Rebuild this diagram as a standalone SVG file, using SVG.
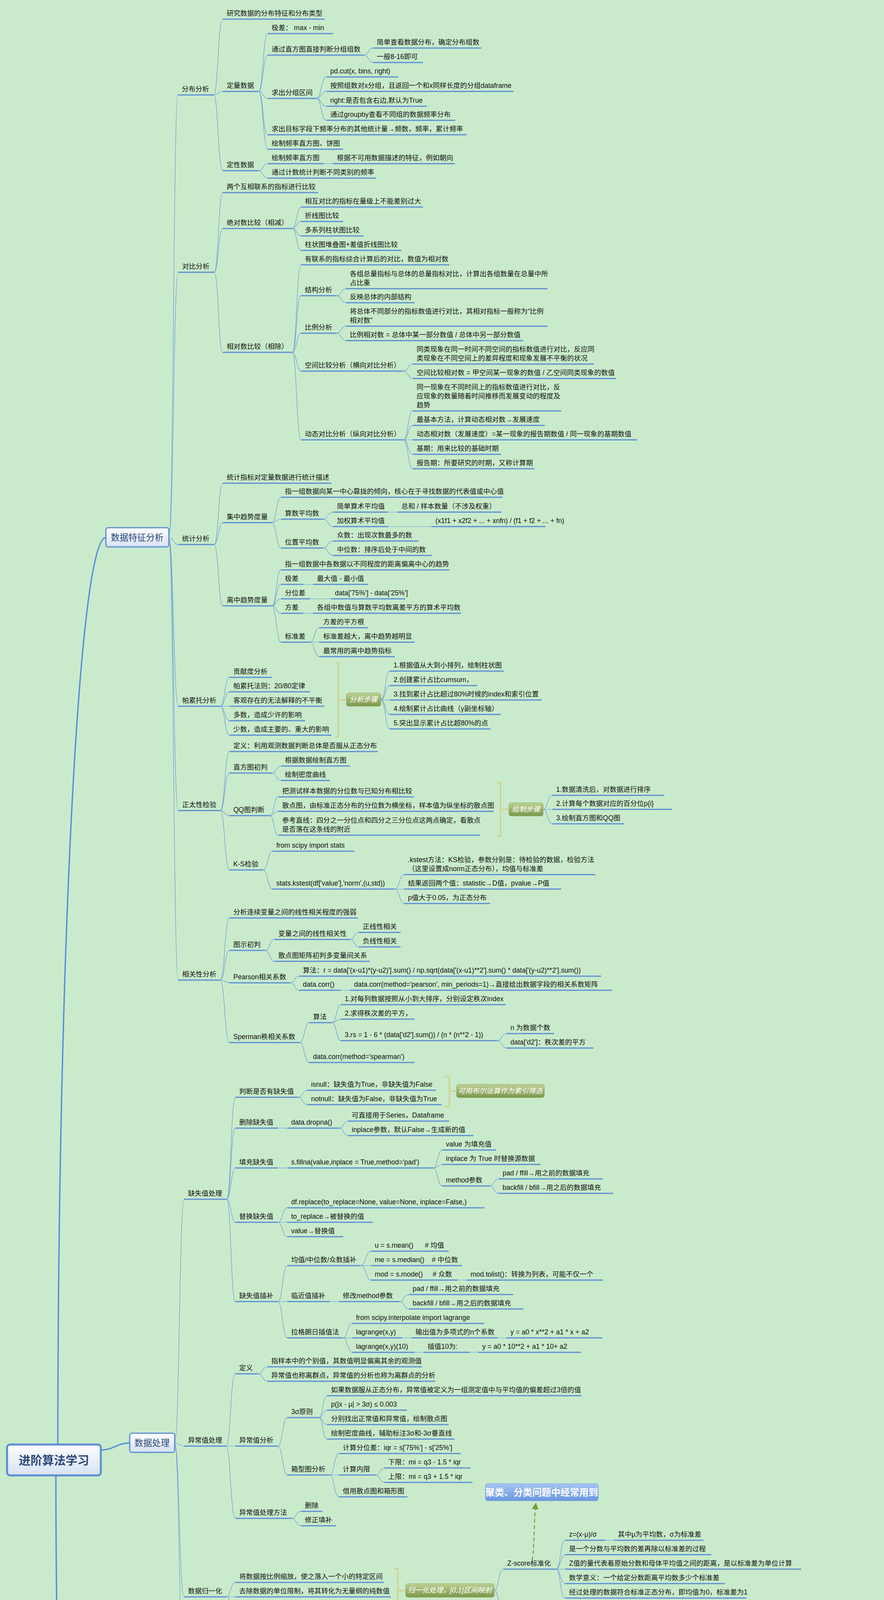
<svg xmlns="http://www.w3.org/2000/svg" width="2262" height="7769" viewBox="0 0 2262 7769">
<defs>
<linearGradient id="gw" x1="0" y1="0" x2="0" y2="1"><stop offset="0" stop-color="#fdfeff"/><stop offset="1" stop-color="#d6e1f3"/></linearGradient>
<linearGradient id="gg" x1="0" y1="0" x2="0" y2="1"><stop offset="0" stop-color="#bcd194"/><stop offset="1" stop-color="#7b974a"/></linearGradient>
<linearGradient id="gbl" x1="0" y1="0" x2="0" y2="1"><stop offset="0" stop-color="#a6c4f3"/><stop offset="1" stop-color="#6a97e0"/></linearGradient>
<marker id="ar" viewBox="0 0 10 10" refX="8" refY="5" markerWidth="7" markerHeight="7" orient="auto"><path d="M0 0L10 5L0 10z" fill="#7d9a3c"/></marker>
</defs>
<style>
text{font-family:"Liberation Sans","Noto Sans CJK SC",sans-serif}
.N text{font-size:17.5px;fill:#111}
.N path{stroke:#5b8dd6;stroke-width:3;fill:none}
#connectors path{stroke:#6a95d9;stroke-width:1.2;fill:none}
#connectors path.k{stroke:#5b8dd6;stroke-width:3.5}
.br{stroke:#d2d596;stroke-width:4;fill:none}
.gb rect{fill:url(#gg);stroke:#93ab68;stroke-width:1}
.gb text{fill:#fff;font-style:italic;font-size:18px;text-anchor:middle}
.L rect{fill:url(#gw);stroke:#5b8dd6;stroke-width:3}
.L text{fill:#2d4a7a;font-size:22.5px;text-anchor:middle}
.red text{fill:#f00}
</style>
<rect width="2262" height="7769" fill="#c9ebcb"/>

<g id="connectors">
<path class="k" d="M148 3698C148 2500 200 1376 271 1376"/>
<path class="k" d="M258 3712C292 3712 298 3694 332 3694"/>
<path class="k" d="M143 3777C143 4900 220 6183 271 6183"/>
<path d="M432 1376C444 1376 444 243 455 243M432 1376C444 1376 444 697 456 697M432 1376C444 1376 444 1394 456 1394M432 1376C444 1376 444 1808 456 1808M432 1376C444 1376 444 2075 456 2075M432 1376C444 1376 444 2509 456 2509"/>
<path d="M547 243C558 243 558 49 570 49M547 243C558 243 558 234 570 234M547 243C558 243 558 437 570 437"/>
<path d="M662 234C673 234 673 86 685 86M662 234C673 234 673 141 685 141M662 234C673 234 673 252 685 252M662 234C673 234 673 345 685 345M662 234C673 234 673 382 685 382"/>
<path d="M932 141C943 141 943 123 954 123M932 141C943 141 943 160 954 160"/>
<path d="M810 252C822 252 822 197 835 197M810 252C822 252 822 234 835 234M810 252C822 252 822 272 835 272M810 252C822 252 822 308 835 308"/>
<path d="M662 437C673 437 673 419 685 419M662 437C673 437 673 456 685 456M828 419H852"/>
<path d="M548 697C559 697 559 493 570 493M548 697C559 697 559 585 570 585M548 697C559 697 559 902 570 902"/>
<path d="M748 585C759 585 759 530 770 530M748 585C759 585 759 567 770 567M748 585C759 585 759 604 770 604M748 585C759 585 759 641 770 641"/>
<path d="M748 902C759 902 759 678 770 678M748 902C759 902 759 757 770 757M748 902C759 902 759 853 770 853M748 902C759 902 759 950 770 950M748 902C759 902 759 1126 770 1126"/>
<path d="M862 757C873 757 873 739 885 739M862 757C873 757 873 775 885 775M862 853C873 853 873 835 885 835M862 853C873 853 873 872 885 872"/>
<path d="M1033 950C1044 950 1044 932 1056 932M1033 950C1044 950 1044 969 1056 969"/>
<path d="M1033 1126C1044 1126 1044 1052 1056 1052M1033 1126C1044 1126 1044 1089 1056 1089M1033 1126H1056M1033 1126C1044 1126 1044 1163 1056 1163M1033 1126C1044 1126 1044 1200 1056 1200"/>
<path d="M548 1394C559 1394 559 1237 570 1237M548 1394C559 1394 559 1338 570 1338M548 1394C559 1394 559 1551 570 1551"/>
<path d="M696 1338C707 1338 707 1273 719 1273M696 1338C707 1338 707 1329 719 1329M696 1338C707 1338 707 1403 719 1403"/>
<path d="M827 1329C839 1329 839 1311 852 1311M827 1329C839 1329 839 1348 852 1348M993 1311H1017M993 1348H1104"/>
<path d="M827 1403C839 1403 839 1385 852 1385M827 1403C839 1403 839 1422 852 1422"/>
<path d="M696 1551C707 1551 707 1459 719 1459M696 1551C707 1551 707 1496 719 1496M696 1551C707 1551 707 1533 719 1533M696 1551C707 1551 707 1570 719 1570M696 1551C707 1551 707 1644 719 1644M776 1496H801M793 1533H847M776 1570H801"/>
<path d="M793 1644C805 1644 805 1607 817 1607M793 1644H817M793 1644C805 1644 805 1681 817 1681"/>
<path d="M564 1808C575 1808 575 1734 587 1734M564 1808C575 1808 575 1771 587 1771M564 1808H587M564 1808C575 1808 575 1845 587 1845M564 1808C575 1808 575 1882 587 1882"/>
<path d="M975 1791C986 1791 986 1718 997 1718M975 1791C986 1791 986 1755 997 1755M975 1791C986 1791 986 1792 997 1792M975 1791C986 1791 986 1829 997 1829M975 1791C986 1791 986 1866 997 1866"/>
<path d="M564 2075C575 2075 575 1924 587 1924M564 2075C575 2075 575 1979 587 1979M564 2075C575 2075 575 2088 587 2088M564 2075C575 2075 575 2227 587 2227"/>
<path d="M696 1979C707 1979 707 1961 719 1961M696 1979C707 1979 707 1998 719 1998"/>
<path d="M691 2088C701 2088 701 2040 712 2040M691 2088C701 2088 701 2077 712 2077M691 2088C701 2088 701 2138 712 2138"/>
<path d="M1390 2072C1401 2072 1401 2036 1413 2036M1390 2072H1413M1390 2072C1401 2072 1401 2109 1413 2109"/>
<path d="M673 2227C685 2227 685 2179 697 2179M673 2227C685 2227 685 2276 697 2276"/>
<path d="M1010 2276C1022 2276 1022 2239 1034 2239M1010 2276H1034M1010 2276C1022 2276 1022 2313 1034 2313"/>
<path d="M564 2509C575 2509 575 2350 587 2350M564 2509C575 2509 575 2433 587 2433M564 2509C575 2509 575 2516 587 2516M564 2509C575 2509 575 2669 587 2669"/>
<path d="M679 2433C690 2433 690 2405 702 2405M679 2433C690 2433 690 2461 702 2461M896 2405C907 2405 907 2387 918 2387M896 2405C907 2405 907 2424 918 2424"/>
<path d="M743 2516C754 2516 754 2499 765 2499M743 2516C754 2516 754 2535 765 2535M872 2535H896"/>
<path d="M767 2669C779 2669 779 2618 791 2618M767 2669C779 2669 779 2720 791 2720"/>
<path d="M850 2618C861 2618 861 2572 872 2572M850 2618C861 2618 861 2609 872 2609M850 2618C861 2618 861 2664 872 2664"/>
<path d="M1273 2664C1284 2664 1284 2646 1296 2646M1273 2664C1284 2664 1284 2683 1296 2683"/>
<path d="M447 3694C459 3694 459 3070 471 3070M447 3694C459 3694 459 3702 471 3702M447 3694C459 3694 459 4088 471 4088M447 3694C459 3694 459 4319 471 4319"/>
<path d="M580 3070C591 3070 591 2809 602 2809M580 3070C591 3070 591 2888 602 2888M580 3070C591 3070 591 2990 602 2990M580 3070C591 3070 591 3129 602 3129M580 3070C591 3070 591 3332 602 3332"/>
<path d="M763 2809C774 2809 774 2791 786 2791M763 2809C774 2809 774 2828 786 2828M711 2888H735M869 2888C879 2888 879 2870 890 2870M869 2888C879 2888 879 2907 890 2907"/>
<path d="M711 2990H735M1109 2990C1120 2990 1120 2944 1131 2944M1109 2990C1120 2990 1120 2981 1131 2981M1109 2990C1120 2990 1120 3036 1131 3036"/>
<path d="M1253 3036C1264 3036 1264 3018 1276 3018M1253 3036C1264 3036 1264 3055 1276 3055"/>
<path d="M711 3129C723 3129 723 3092 735 3092M711 3129H735M711 3129C723 3129 723 3166 735 3166"/>
<path d="M711 3332C723 3332 723 3240 735 3240M711 3332H735M711 3332C723 3332 723 3425 735 3425"/>
<path d="M923 3240C936 3240 936 3203 949 3203M923 3240H949M923 3240C936 3240 936 3277 949 3277M1171 3277H1194M844 3332H867"/>
<path d="M1023 3332C1034 3332 1034 3314 1046 3314M1023 3332C1034 3332 1034 3351 1046 3351"/>
<path d="M878 3425C889 3425 889 3388 901 3388M878 3425H901M878 3425C889 3425 889 3462 901 3462M1029 3425H1053M1273 3425H1296M1061 3462H1084M1202 3462H1224"/>
<path d="M579 3702C590 3702 590 3517 602 3517M579 3702H602M579 3702C590 3702 590 3887 602 3887"/>
<path d="M661 3517C672 3517 672 3499 684 3499M661 3517C672 3517 672 3536 684 3536"/>
<path d="M711 3702C723 3702 723 3629 735 3629M711 3702C723 3702 723 3776 735 3776"/>
<path d="M816 3629C826 3629 826 3573 837 3573M816 3629C826 3629 826 3610 837 3610M816 3629C826 3629 826 3647 837 3647M816 3629C826 3629 826 3684 837 3684"/>
<path d="M844 3776C855 3776 855 3721 867 3721M844 3776H867M844 3776C855 3776 855 3832 867 3832M961 3776C972 3776 972 3758 983 3758M961 3776C972 3776 972 3795 983 3795"/>
<path d="M747 3887C758 3887 758 3869 770 3869M747 3887C758 3887 758 3906 770 3906"/>
<path d="M579 4088C590 4088 590 4051 602 4051M579 4088H602M579 4088C590 4088 590 4125 602 4125"/>
<path d="M1265 4071C1276 4071 1276 4017 1288 4017M1265 4071C1276 4071 1276 4128 1288 4128"/>
<path d="M1423 4017C1434 4017 1434 3943 1446 3943M1423 4017C1434 4017 1434 3980 1446 3980M1423 4017H1446M1423 4017C1434 4017 1434 4054 1446 4054M1423 4017C1434 4017 1434 4091 1446 4091M1548 3943H1571M1388 4128H1413"/>
<path d="M646 4319H671M881 4319C893 4319 893 4250 905 4250M881 4319C893 4319 893 4389 905 4389"/>
<path d="M1323 4250C1335 4250 1335 4186 1347 4186M1323 4250C1335 4250 1335 4241 1347 4241M1323 4250C1335 4250 1335 4278 1347 4278M1323 4250C1335 4250 1335 4315 1347 4315"/>
<path d="M1564 4186C1577 4186 1577 4167 1590 4167M1564 4186C1577 4186 1577 4204 1590 4204M1454 4241H1480M1490 4278H1515M1546 4315H1571"/>
<path d="M1245 4389C1256 4389 1256 4351 1268 4351M1245 4389H1268M1245 4389C1256 4389 1256 4426 1268 4426"/>
<path d="M388 6183C399 6183 399 4880 411 4880M388 6183C399 6183 399 5546 411 5546M388 6183C399 6183 399 6401 411 6401M388 6183C399 6183 399 7489 411 7489"/>
<path d="M503 4880C514 4880 514 4510 525 4510M503 4880C514 4880 514 4912 525 4912M503 4880C514 4880 514 5251 525 5251"/>
<path d="M584 4510C594 4510 594 4492 605 4492M584 4510C594 4510 594 4529 605 4529M584 4912C595 4912 595 4798 607 4798M584 4912C595 4912 595 5028 607 5028"/>
<path d="M733 4798C744 4798 744 4676 755 4676M733 4798C744 4798 744 4843 755 4843M733 4798C744 4798 744 4917 755 4917"/>
<path d="M847 4676C858 4676 858 4566 870 4566M847 4676C858 4676 858 4603 870 4603M847 4676C858 4676 858 4640 870 4640M847 4676H870M847 4676C858 4676 858 4715 870 4715M847 4676C858 4676 858 4751 870 4751M847 4676C858 4676 858 4788 870 4788M1120 4640H1145"/>
<path d="M813 4843H837M1263 4843C1275 4843 1275 4825 1288 4825M1263 4843C1275 4843 1275 4862 1288 4862"/>
<path d="M852 4917C863 4917 863 4899 874 4899M852 4917C863 4917 863 4936 874 4936"/>
<path d="M742 5028C752 5028 752 4973 763 4973M742 5028C752 5028 752 5010 763 5010M742 5028C752 5028 752 5047 763 5047M742 5028C752 5028 752 5084 763 5084"/>
<path d="M619 5251C630 5251 630 5195 641 5195M619 5251C630 5251 630 5232 641 5232M619 5251C630 5251 630 5269 641 5269M619 5251C630 5251 630 5306 641 5306"/>
<path d="M1262 5233C1273 5233 1273 5121 1284 5121M1262 5233C1273 5233 1273 5158 1284 5158M1262 5233C1273 5233 1273 5195 1284 5195M1262 5233H1284M1262 5233C1273 5233 1273 5269 1284 5269M1262 5233C1273 5233 1273 5306 1284 5306M1262 5233C1273 5233 1273 5346 1284 5346"/>
<path d="M508 5546C519 5546 519 5390 531 5390M508 5546C519 5546 519 5500 531 5500M508 5546C519 5546 519 5703 531 5703"/>
<path d="M622 5500C634 5500 634 5426 646 5426M622 5500C634 5500 634 5463 646 5463M622 5500H646M622 5500C634 5500 634 5538 646 5538M622 5500C634 5500 634 5574 646 5574M988 5463H1013M972 5500H997M840 5538H864"/>
<path d="M622 5703C634 5703 634 5611 646 5611M622 5703C634 5703 634 5648 646 5648M622 5703C634 5703 634 5685 646 5685M622 5703C634 5703 634 5722 646 5722M622 5703C634 5703 634 5759 646 5759M622 5703C634 5703 634 5796 646 5796M867 5648H891M988 5722H1013M944 5759H968M842 5796H866"/>
<path d="M622 6401C633 6401 633 5833 645 5833M622 6401C633 6401 633 5870 645 5870M622 6401C633 6401 633 6112 645 6112M622 6401C633 6401 633 6498 645 6498M622 6401C633 6401 633 6969 645 6969"/>
<path d="M770 6112C781 6112 781 5907 793 5907M770 6112C781 6112 781 5944 793 5944M770 6112C781 6112 781 5982 793 5982M770 6112C781 6112 781 6018 793 6018M770 6112C781 6112 781 6074 793 6074M770 6112C781 6112 781 6147 793 6147M770 6112C781 6112 781 6203 793 6203M770 6112C781 6112 781 6245 793 6245M770 6112C781 6112 781 6281 793 6281M770 6112C781 6112 781 6318 793 6318"/>
<path d="M1136 5944H1161M1013 6074C1024 6074 1024 6055 1036 6055M1013 6074C1024 6074 1024 6092 1036 6092M978 6147C990 6147 990 6130 1002 6130M978 6147C990 6147 990 6166 1002 6166M969 6203H993M1574 6245H1600"/>
<path d="M770 6498C781 6498 781 6378 793 6378M770 6498C781 6498 781 6415 793 6415M770 6498C781 6498 781 6452 793 6452M770 6498C781 6498 781 6489 793 6489M770 6498C781 6498 781 6526 793 6526M770 6498C781 6498 781 6618 793 6618M1143 6378H1168M1184 6526H1207"/>
<path d="M903 6618C913 6618 913 6562 923 6562M903 6618C913 6618 913 6601 923 6601M903 6618C913 6618 913 6637 923 6637M903 6618C913 6618 913 6674 923 6674M1283 6601H1308"/>
<path d="M772 6969C784 6969 784 6748 796 6748M772 6969C784 6969 784 6951 796 6951M772 6969C784 6969 784 7192 796 7192"/>
<path d="M852 6748C865 6748 865 6711 878 6711M852 6748H878M852 6748C865 6748 865 6785 878 6785"/>
<path d="M886 6951C898 6951 898 6822 911 6822M886 6951H911M886 6951C898 6951 898 7081 911 7081M1427 6822H1452"/>
<path d="M1131 6951C1142 6951 1142 6859 1153 6859M1131 6951C1142 6951 1142 6896 1153 6896M1131 6951C1142 6951 1142 6933 1153 6933M1131 6951C1142 6951 1142 6970 1153 6970M1131 6951C1142 6951 1142 7007 1153 7007M1131 6951C1142 6951 1142 7044 1153 7044"/>
<path d="M932 7192C944 7192 944 7118 956 7118M932 7192C944 7192 944 7155 956 7155M932 7192H956M932 7192C944 7192 944 7229 956 7229M932 7192C944 7192 944 7266 956 7266M1268 7118H1293M1272 7266H1298"/>
<path d="M538 7489C548 7489 548 7341 559 7341M538 7489C548 7489 548 7637 559 7637"/>
<path d="M651 7341C662 7341 662 7304 673 7304M651 7341H673M651 7341C662 7341 662 7378 673 7378"/>
<path d="M617 7637C629 7637 629 7525 641 7525M617 7637C629 7637 629 7711 641 7711M617 7637C629 7637 629 7748 641 7748"/>
<path d="M727 7525C738 7525 738 7415 750 7415M727 7525C738 7525 738 7452 750 7452M727 7525C738 7525 738 7489 750 7489M727 7525H750M727 7525C738 7525 738 7563 750 7563M727 7525C738 7525 738 7637 750 7637"/>
<path d="M808 7637C820 7637 820 7600 832 7600M808 7637H832M808 7637C820 7637 820 7674 832 7674"/>
</g>

<g id="brackets">
<path class="br" d="M857 1698H866V1886H857M866 1792H884"/>
<path class="br" d="M1272 2004H1281V2141H1272M1281 2072H1300"/>
<path class="br" d="M1138 2756H1150V2832H1138M1150 2793H1166"/>
<path class="br" d="M1008 4016H1018V4130H1008M1018 4072H1036"/>
<path class="br" d="M1145 5159H1156V5310H1145M1156 5234H1173"/>
<path class="br" d="M1487 7268H1497V7752H1487M1497 7510H1515"/>
</g>

<g id="root"><rect x="18" y="3698" width="240" height="79" rx="8" fill="url(#gw)" stroke="#5b8dd6" stroke-width="5"/><text x="138" y="3749" font-size="30" font-weight="bold" fill="#2d4a7a" text-anchor="middle">进阶算法学习</text></g>
<g id="b-features" class="L"><rect x="271" y="1351" width="161" height="49" rx="5"/><text x="351" y="1384">数据特征分析</text></g>
<g id="b-process" class="L"><rect x="332" y="3669" width="115" height="49" rx="5"/><text x="389" y="3702">数据处理</text></g>
<g id="b-model" class="L"><rect x="271" y="6160" width="117" height="47" rx="5"/><text x="329" y="6192">数学建模</text></g>

<g id="gb1" class="gb"><rect x="886" y="1774" width="89" height="34" rx="6"/><text x="930" y="1797">分析步骤</text></g>
<g id="gb2" class="gb"><rect x="1302" y="2055" width="88" height="34" rx="6"/><text x="1346" y="2078">绘制步骤</text></g>
<g id="gb3" class="gb"><rect x="1168" y="2776" width="225" height="34" rx="6"/><text x="1280" y="2799">可用布尔运算作为索引筛选</text></g>
<g id="gb4" class="gb"><rect x="1038" y="4054" width="227" height="35" rx="6"/><text x="1151" y="4077">归一化处理，[0,1]区间映射</text></g>
<g id="gb5" class="gb"><rect x="1175" y="5216" width="87" height="35" rx="6"/><text x="1218" y="5239">步骤方法</text></g>
<g id="gb6" class="gb"><rect x="1517" y="7477" width="245" height="66" rx="6"/><text x="1639" y="7505" font-size="26" font-weight="bold">理论联系实际<tspan x="1639" dy="30">通过大量随机试验</tspan></text></g>

<g id="bluebox"><rect x="1242" y="3798" width="289" height="44" rx="6" fill="url(#gbl)" stroke="#7aa2e3"/><text x="1386" y="3829" font-size="24" font-weight="bold" fill="#fff" text-anchor="middle">聚类、分类问题中经常用到</text></g>
<path id="dash-link" d="M1362 3994C1368 3950 1366 3892 1371 3850" stroke="#7d9a3c" stroke-width="2.5" stroke-dasharray="10 6" fill="none" marker-end="url(#ar)"/>
<path id="clip-icon" d="M955 6141l9-14a3 3 0 0 0-5-3l-9 14a2 2 0 0 0 3 2l7-11" stroke="#5b8dd6" stroke-width="1.5" fill="none"/>

<g id="nodes">
<g id="n1" class="N"><path d="M455 243H547"/><text x="465" y="234">分布分析</text></g>
<g id="n2" class="N"><path d="M570 49H831"/><text x="580" y="40">研究数据的分布特征和分布类型</text></g>
<g id="n3" class="N"><path d="M570 234H662"/><text x="580" y="225">定量数据</text></g>
<g id="n4" class="N"><path d="M685 86H852"/><text x="695" y="77">极差：  max - min</text></g>
<g id="n5" class="N"><path d="M685 141H932"/><text x="695" y="132">通过直方图直接判断分组组数</text></g>
<g id="n6" class="N"><path d="M954 123H1231"/><text x="964" y="114">简单查看数据分布，确定分布组数</text></g>
<g id="n7" class="N"><path d="M954 160H1082"/><text x="964" y="151">一般8-16即可</text></g>
<g id="n8" class="N"><path d="M685 252H810"/><text x="695" y="243">求出分组区间</text></g>
<g id="n9" class="N"><path d="M835 197H1019"/><text x="845" y="188">pd.cut(x, bins, right)</text></g>
<g id="n10" class="N"><path d="M835 234H1314"/><text x="845" y="225">按照组数对x分组，且返回一个和x同样长度的分组dataframe</text></g>
<g id="n11" class="N"><path d="M835 272H1092"/><text x="845" y="263">right:是否包含右边,默认为True</text></g>
<g id="n12" class="N"><path d="M835 308H1165"/><text x="845" y="299">通过groupby查看不同组的数据频率分布</text></g>
<g id="n13" class="N"><path d="M685 345H1194"/><text x="695" y="336">求出目标字段下频率分布的其他统计量→频数，频率，累计频率</text></g>
<g id="n14" class="N"><path d="M685 382H878"/><text x="695" y="373">绘制频率直方图、饼图</text></g>
<g id="n15" class="N"><path d="M570 437H662"/><text x="580" y="428">定性数据</text></g>
<g id="n16" class="N"><path d="M685 419H828"/><text x="695" y="410">绘制频率直方图</text></g>
<g id="n17" class="N"><path d="M852 419H1164"/><text x="862" y="410">根据不可用数据描述的特征，例如朝向</text></g>
<g id="n18" class="N"><path d="M685 456H963"/><text x="695" y="447">通过计数统计判断不同类别的频率</text></g>
<g id="n19" class="N"><path d="M456 697H548"/><text x="466" y="688">对比分析</text></g>
<g id="n20" class="N"><path d="M570 493H814"/><text x="580" y="484">两个互相联系的指标进行比较</text></g>
<g id="n21" class="N"><path d="M570 585H748"/><text x="580" y="576">绝对数比较（相减）</text></g>
<g id="n22" class="N"><path d="M770 530H1082"/><text x="780" y="521">相互对比的指标在量级上不能差别过大</text></g>
<g id="n23" class="N"><path d="M770 567H878"/><text x="780" y="558">折线图比较</text></g>
<g id="n24" class="N"><path d="M770 604H930"/><text x="780" y="595">多系列柱状图比较</text></g>
<g id="n25" class="N"><path d="M770 641H1027"/><text x="780" y="632">柱状图堆叠图+差值折线图比较</text></g>
<g id="n26" class="N"><path d="M570 902H748"/><text x="580" y="893">相对数比较（相除）</text></g>
<g id="n27" class="N"><path d="M770 678H1150"/><text x="780" y="669">有联系的指标综合计算后的对比，数值为相对数</text></g>
<g id="n28" class="N"><path d="M770 757H862"/><text x="780" y="748">结构分析</text></g>
<g id="n29" class="N"><path d="M885 739H1401"/><text x="895" y="707">各组总量指标与总体的总量指标对比，计算出各组数量在总量中所<tspan x="895" dy="23">占比重</tspan></text></g>
<g id="n30" class="N"><path d="M885 775H1061"/><text x="895" y="766">反映总体的内部结构</text></g>
<g id="n31" class="N"><path d="M770 853H862"/><text x="780" y="844">比例分析</text></g>
<g id="n32" class="N"><path d="M885 835H1401"/><text x="895" y="803">将总体不同部分的指标数值进行对比，其相对指标一般称为“比例<tspan x="895" dy="23">相对数”</tspan></text></g>
<g id="n33" class="N"><path d="M885 872H1339"/><text x="895" y="863">比例相对数 = 总体中某一部分数值 / 总体中另一部分数值</text></g>
<g id="n34" class="N"><path d="M770 950H1033"/><text x="780" y="941">空间比较分析（横向对比分析）</text></g>
<g id="n35" class="N"><path d="M1056 932H1520"/><text x="1066" y="900">同类现象在同一时间不同空间的指标数值进行对比，反应同<tspan x="1066" dy="23">类现象在不同空间上的差异程度和现象发展不平衡的状况</tspan></text></g>
<g id="n36" class="N"><path d="M1056 969H1577"/><text x="1066" y="960">空间比较相对数 = 甲空间某一现象的数值 / 乙空间同类现象的数值</text></g>
<g id="n37" class="N"><path d="M770 1126H1033"/><text x="780" y="1117">动态对比分析（纵向对比分析）</text></g>
<g id="n38" class="N"><path d="M1056 1052H1436"/><text x="1066" y="997">同一现象在不同时间上的指标数值进行对比，反<tspan x="1066" dy="23">应现象的数量随着时间推移而发展变动的程度及</tspan><tspan x="1066" dy="23">趋势</tspan></text></g>
<g id="n39" class="N"><path d="M1056 1089H1394"/><text x="1066" y="1080">最基本方法，计算动态相对数→发展速度</text></g>
<g id="n40" class="N"><path d="M1056 1126H1630"/><text x="1066" y="1117">动态相对数（发展速度）=某一现象的报告期数值 / 同一现象的基期数值</text></g>
<g id="n41" class="N"><path d="M1056 1163H1282"/><text x="1066" y="1154">基期：用来比较的基础时期</text></g>
<g id="n42" class="N"><path d="M1056 1200H1367"/><text x="1066" y="1191">报告期：所要研究的时期，又称计算期</text></g>
<g id="n43" class="N"><path d="M456 1394H548"/><text x="466" y="1385">统计分析</text></g>
<g id="n44" class="N"><path d="M570 1237H848"/><text x="580" y="1228">统计指标对定量数据进行统计描述</text></g>
<g id="n45" class="N"><path d="M570 1338H696"/><text x="580" y="1329">集中趋势度量</text></g>
<g id="n46" class="N"><path d="M719 1273H1286"/><text x="729" y="1264">指一组数据向某一中心靠拢的倾向，核心在于寻找数据的代表值或中心值</text></g>
<g id="n47" class="N"><path d="M719 1329H827"/><text x="729" y="1320">算数平均数</text></g>
<g id="n48" class="N"><path d="M852 1311H993"/><text x="862" y="1302">简单算术平均值</text></g>
<g id="n49" class="N"><path d="M1017 1311H1283"/><text x="1027" y="1302">总和 / 样本数量（不涉及权重）</text></g>
<g id="n50" class="N"><path d="M852 1348H993"/><text x="862" y="1339">加权算术平均值</text></g>
<g id="n51" class="N"><path d="M1104 1348H1396"/><text x="1114" y="1339">(x1f1 + x2f2 + ... + xnfn) / (f1 + f2 + ... + fn)</text></g>
<g id="n52" class="N"><path d="M719 1403H827"/><text x="729" y="1394">位置平均数</text></g>
<g id="n53" class="N"><path d="M852 1385H1071"/><text x="862" y="1376">众数：出现次数最多的数</text></g>
<g id="n54" class="N"><path d="M852 1422H1105"/><text x="862" y="1413">中位数：排序后处于中间的数</text></g>
<g id="n55" class="N"><path d="M570 1551H696"/><text x="580" y="1542">离中趋势度量</text></g>
<g id="n56" class="N"><path d="M719 1459H1150"/><text x="729" y="1450">指一组数据中各数据以不同程度的距离偏离中心的趋势</text></g>
<g id="n57" class="N"><path d="M719 1496H776"/><text x="729" y="1487">极差</text></g>
<g id="n58" class="N"><path d="M801 1496H942"/><text x="811" y="1487">最大值 - 最小值</text></g>
<g id="n59" class="N"><path d="M719 1533H793"/><text x="729" y="1524">分位差</text></g>
<g id="n60" class="N"><path d="M847 1533H1037"/><text x="857" y="1524">data['75%'] - data['25%']</text></g>
<g id="n61" class="N"><path d="M719 1570H776"/><text x="729" y="1561">方差</text></g>
<g id="n62" class="N"><path d="M801 1570H1180"/><text x="811" y="1561">各组中数值与算数平均数离差平方的算术平均数</text></g>
<g id="n63" class="N"><path d="M719 1644H793"/><text x="729" y="1635">标准差</text></g>
<g id="n64" class="N"><path d="M817 1607H942"/><text x="827" y="1598">方差的平方根</text></g>
<g id="n65" class="N"><path d="M817 1644H1061"/><text x="827" y="1635">标准差越大，离中趋势越明显</text></g>
<g id="n66" class="N"><path d="M817 1681H1010"/><text x="827" y="1672">最常用的离中趋势指标</text></g>
<g id="n67" class="N"><path d="M456 1808H564"/><text x="466" y="1799">帕累托分析</text></g>
<g id="n68" class="N"><path d="M587 1734H696"/><text x="597" y="1725">贡献度分析</text></g>
<g id="n69" class="N"><path d="M587 1771H793"/><text x="597" y="1762">帕累托法则：20/80定律</text></g>
<g id="n70" class="N"><path d="M587 1808H830"/><text x="597" y="1799">客观存在的无法解释的不平衡</text></g>
<g id="n71" class="N"><path d="M587 1845H781"/><text x="597" y="1836">多数，造成少许的影响</text></g>
<g id="n72" class="N"><path d="M587 1882H848"/><text x="597" y="1873">少数，造成主要的、重大的影响</text></g>
<g id="n73" class="N"><path d="M997 1718H1289"/><text x="1007" y="1709">1.根据值从大到小排列，绘制柱状图</text></g>
<g id="n74" class="N"><path d="M997 1755H1221"/><text x="1007" y="1746">2.创建累计占比cumsum，</text></g>
<g id="n75" class="N"><path d="M997 1792H1386"/><text x="1007" y="1783">3.找到累计占比超过80%时候的index和索引位置</text></g>
<g id="n76" class="N"><path d="M997 1829H1281"/><text x="1007" y="1820">4.绘制累计占比曲线（y副坐标轴）</text></g>
<g id="n77" class="N"><path d="M997 1866H1255"/><text x="1007" y="1857">5.突出显示累计占比超80%的点</text></g>
<g id="n78" class="N"><path d="M456 2075H564"/><text x="466" y="2066">正太性检验</text></g>
<g id="n79" class="N"><path d="M587 1924H967"/><text x="597" y="1915">定义：利用观测数据判断总体是否服从正态分布</text></g>
<g id="n80" class="N"><path d="M587 1979H696"/><text x="597" y="1970">直方图初判</text></g>
<g id="n81" class="N"><path d="M719 1961H895"/><text x="729" y="1952">根据数据绘制直方图</text></g>
<g id="n82" class="N"><path d="M719 1998H844"/><text x="729" y="1989">绘制密度曲线</text></g>
<g id="n83" class="N"><path d="M587 2088H691"/><text x="597" y="2079">QQ图判断</text></g>
<g id="n84" class="N"><path d="M712 2040H1059"/><text x="722" y="2031">把测试样本数据的分位数与已知分布相比较</text></g>
<g id="n85" class="N"><path d="M712 2077H1263"/><text x="722" y="2068">散点图，由标准正态分布的分位数为横坐标，样本值为纵坐标的散点图</text></g>
<g id="n86" class="N"><path d="M712 2138H1229"/><text x="722" y="2106">参考直线：四分之一分位点和四分之三分位点这两点确定，看散点<tspan x="722" dy="23">是否落在这条线的附近</tspan></text></g>
<g id="n87" class="N"><path d="M1413 2036H1700"/><text x="1423" y="2027">1.数据清洗后，对数据进行排序</text></g>
<g id="n88" class="N"><path d="M1413 2072H1720"/><text x="1423" y="2063">2.计算每个数据对应的百分位p{i}</text></g>
<g id="n89" class="N"><path d="M1413 2109H1597"/><text x="1423" y="2100">3.绘制直方图和QQ图</text></g>
<g id="n90" class="N"><path d="M587 2227H673"/><text x="597" y="2218">K-S检验</text></g>
<g id="n91" class="N"><path d="M697 2179H907"/><text x="707" y="2170">from scipy import stats</text></g>
<g id="n92" class="N"><path d="M697 2276H1010"/><text x="707" y="2267">stats.kstest(df['value'],'norm',(u,std))</text></g>
<g id="n93" class="N"><path d="M1034 2239H1523"/><text x="1044" y="2207">.kstest方法：KS检验，参数分别是：待检验的数据，检验方法<tspan x="1044" dy="23">（这里设置成norm正态分布），均值与标准差</tspan></text></g>
<g id="n94" class="N"><path d="M1034 2276H1436"/><text x="1044" y="2267">结果返回两个值：statistic→D值，pvalue→P值</text></g>
<g id="n95" class="N"><path d="M1034 2313H1254"/><text x="1044" y="2304">p值大于0.05，为正态分布</text></g>
<g id="n96" class="N"><path d="M456 2509H564"/><text x="466" y="2500">相关性分析</text></g>
<g id="n97" class="N"><path d="M587 2350H916"/><text x="597" y="2341">分析连续变量之间的线性相关程度的强弱</text></g>
<g id="n98" class="N"><path d="M587 2433H679"/><text x="597" y="2424">图示初判</text></g>
<g id="n99" class="N"><path d="M702 2405H896"/><text x="712" y="2396">变量之间的线性相关性</text></g>
<g id="n100" class="N"><path d="M918 2387H1025"/><text x="928" y="2378">正线性相关</text></g>
<g id="n101" class="N"><path d="M918 2424H1025"/><text x="928" y="2415">负线性相关</text></g>
<g id="n102" class="N"><path d="M702 2461H946"/><text x="712" y="2452">散点图矩阵初判多变量间关系</text></g>
<g id="n103" class="N"><path d="M587 2516H743"/><text x="597" y="2507">Pearson相关系数</text></g>
<g id="n104" class="N"><path d="M765 2499H1538"/><text x="775" y="2490">算法：r = data['(x-u1)*(y-u2)'].sum() / np.sqrt(data['(x-u1)**2'].sum() * data['(y-u2)**2'].sum())</text></g>
<g id="n105" class="N"><path d="M765 2535H872"/><text x="775" y="2526">data.corr()</text></g>
<g id="n106" class="N"><path d="M896 2535H1566"/><text x="906" y="2526">data.corr(method='pearson', min_periods=1)→直接给出数据字段的相关系数矩阵</text></g>
<g id="n107" class="N"><path d="M587 2669H767"/><text x="597" y="2660">Sperman秩相关系数</text></g>
<g id="n108" class="N"><path d="M791 2618H850"/><text x="801" y="2609">算法</text></g>
<g id="n109" class="N"><path d="M872 2572H1294"/><text x="882" y="2563">1.对每列数据按照从小到大排序，分别设定秩次index</text></g>
<g id="n110" class="N"><path d="M872 2609H1061"/><text x="882" y="2600">2.求得秩次差的平方，</text></g>
<g id="n111" class="N"><path d="M872 2664H1273"/><text x="882" y="2655">3.rs = 1 - 6 * (data['d2'].sum()) / (n * (n**2 - 1))</text></g>
<g id="n112" class="N"><path d="M1296 2646H1418"/><text x="1306" y="2637">n 为数据个数</text></g>
<g id="n113" class="N"><path d="M1296 2683H1518"/><text x="1306" y="2674">data['d2']：秩次差的平方</text></g>
<g id="n114" class="N"><path d="M791 2720H1061"/><text x="801" y="2711">data.corr(method='spearman')</text></g>
<g id="n115" class="N"><path d="M471 3070H580"/><text x="481" y="3061">缺失值处理</text></g>
<g id="n116" class="N"><path d="M602 2809H763"/><text x="612" y="2800">判断是否有缺失值</text></g>
<g id="n117" class="N"><path d="M786 2791H1115"/><text x="796" y="2782">isnull：缺失值为True，非缺失值为False</text></g>
<g id="n118" class="N"><path d="M786 2828H1130"/><text x="796" y="2819">notnull：缺失值为False，非缺失值为True</text></g>
<g id="n119" class="N"><path d="M602 2888H711"/><text x="612" y="2879">删除缺失值</text></g>
<g id="n120" class="N"><path d="M735 2888H869"/><text x="745" y="2879">data.dropna()</text></g>
<g id="n121" class="N"><path d="M890 2870H1149"/><text x="900" y="2861">可直接用于Series，Dataframe</text></g>
<g id="n122" class="N"><path d="M890 2907H1211"/><text x="900" y="2898">inplace参数，默认False→生成新的值</text></g>
<g id="n123" class="N"><path d="M602 2990H711"/><text x="612" y="2981">填充缺失值</text></g>
<g id="n124" class="N"><path d="M735 2990H1109"/><text x="745" y="2981">s.fillna(value,inplace = True,method='pad')</text></g>
<g id="n125" class="N"><path d="M1131 2944H1270"/><text x="1141" y="2935">value 为填充值</text></g>
<g id="n126" class="N"><path d="M1131 2981H1383"/><text x="1141" y="2972">inplace 为 True 时替换源数据</text></g>
<g id="n127" class="N"><path d="M1131 3036H1253"/><text x="1141" y="3027">method参数</text></g>
<g id="n128" class="N"><path d="M1276 3018H1543"/><text x="1286" y="3009">pad / ffill→用之前的数据填充</text></g>
<g id="n129" class="N"><path d="M1276 3055H1569"/><text x="1286" y="3046">backfill / bfill→用之后的数据填充</text></g>
<g id="n130" class="N"><path d="M602 3129H711"/><text x="612" y="3120">替换缺失值</text></g>
<g id="n131" class="N"><path d="M735 3092H1240"/><text x="745" y="3083">df.replace(to_replace=None, value=None, inplace=False,)</text></g>
<g id="n132" class="N"><path d="M735 3129H954"/><text x="745" y="3120">to_replace→被替换的值</text></g>
<g id="n133" class="N"><path d="M735 3166H878"/><text x="745" y="3157">value→替换值</text></g>
<g id="n134" class="N"><path d="M602 3332H711"/><text x="612" y="3323">缺失值插补</text></g>
<g id="n135" class="N"><path d="M735 3240H923"/><text x="745" y="3231">均值/中位数/众数插补</text></g>
<g id="n136" class="N"><path d="M949 3203H1148"/><text x="959" y="3194">u = s.mean()<tspan x="1087">#  均值</tspan></text></g>
<g id="n137" class="N"><path d="M949 3240H1182"/><text x="959" y="3231">me = s.median()<tspan x="1105">#  中位数</tspan></text></g>
<g id="n138" class="N"><path d="M949 3277H1171"/><text x="959" y="3268">mod = s.mode()<tspan x="1107">#  众数</tspan></text></g>
<g id="n139" class="N"><path d="M1194 3277H1543"/><text x="1204" y="3268">mod.tolist()：转换为列表，可能不仅一个</text></g>
<g id="n140" class="N"><path d="M735 3332H844"/><text x="745" y="3323">临近值插补</text></g>
<g id="n141" class="N"><path d="M867 3332H1023"/><text x="877" y="3323">修改method参数</text></g>
<g id="n142" class="N"><path d="M1046 3314H1313"/><text x="1056" y="3305">pad / ffill→用之前的数据填充</text></g>
<g id="n143" class="N"><path d="M1046 3351H1339"/><text x="1056" y="3342">backfill / bfill→用之后的数据填充</text></g>
<g id="n144" class="N"><path d="M735 3425H878"/><text x="745" y="3416">拉格朗日插值法</text></g>
<g id="n145" class="N"><path d="M901 3388H1239"/><text x="911" y="3379">from scipy.interpolate import lagrange</text></g>
<g id="n146" class="N"><path d="M901 3425H1029"/><text x="911" y="3416">lagrange(x,y)</text></g>
<g id="n147" class="N"><path d="M1053 3425H1273"/><text x="1063" y="3416">输出值为多项式的n个系数</text></g>
<g id="n148" class="N"><path d="M1296 3425H1541"/><text x="1306" y="3416">y = a0 * x**2 + a1 * x + a2</text></g>
<g id="n149" class="N"><path d="M901 3462H1061"/><text x="911" y="3453">lagrange(x,y)(10)</text></g>
<g id="n150" class="N"><path d="M1084 3462H1202"/><text x="1094" y="3453">插值10为:</text></g>
<g id="n151" class="N"><path d="M1224 3462H1487"/><text x="1234" y="3453">y = a0 * 10**2 + a1 * 10+ a2</text></g>
<g id="n152" class="N"><path d="M471 3702H579"/><text x="481" y="3693">异常值处理</text></g>
<g id="n153" class="N"><path d="M602 3517H661"/><text x="612" y="3508">定义</text></g>
<g id="n154" class="N"><path d="M684 3499H1080"/><text x="694" y="3490">指样本中的个别值，其数值明显偏离其余的观测值</text></g>
<g id="n155" class="N"><path d="M684 3536H1114"/><text x="694" y="3527">异常值也称离群点，异常值的分析也称为离群点的分析</text></g>
<g id="n156" class="N"><path d="M602 3702H711"/><text x="612" y="3693">异常值分析</text></g>
<g id="n157" class="N"><path d="M735 3629H816"/><text x="745" y="3620">3σ原则</text></g>
<g id="n158" class="N"><path d="M837 3573H1488"/><text x="847" y="3564">如果数据服从正态分布，异常值被定义为一组测定值中与平均值的偏差超过3倍的值</text></g>
<g id="n159" class="N"><path d="M837 3610H1041"/><text x="847" y="3601">p(|x - μ| &gt; 3σ) ≤ 0.003</text></g>
<g id="n160" class="N"><path d="M837 3647H1148"/><text x="847" y="3638">分别找出正常值和异常值，绘制散点图</text></g>
<g id="n161" class="N"><path d="M837 3684H1163"/><text x="847" y="3675">绘制密度曲线，辅助标注3σ和-3σ垂直线</text></g>
<g id="n162" class="N"><path d="M735 3776H844"/><text x="745" y="3767">箱型图分析</text></g>
<g id="n163" class="N"><path d="M867 3721H1179"/><text x="877" y="3712">计算分位差：iqr = s['75%'] - s['25%']</text></g>
<g id="n164" class="N"><path d="M867 3776H961"/><text x="877" y="3767">计算内限</text></g>
<g id="n165" class="N"><path d="M983 3758H1204"/><text x="993" y="3749">下限：mi = q3 - 1.5 * iqr</text></g>
<g id="n166" class="N"><path d="M983 3795H1209"/><text x="993" y="3786">上限：mi = q3 + 1.5 * iqr</text></g>
<g id="n167" class="N"><path d="M867 3832H1043"/><text x="877" y="3823">借用散点图和箱形图</text></g>
<g id="n168" class="N"><path d="M602 3887H747"/><text x="612" y="3878">异常值处理方法</text></g>
<g id="n169" class="N"><path d="M770 3869H825"/><text x="780" y="3860">删除</text></g>
<g id="n170" class="N"><path d="M770 3906H860"/><text x="780" y="3897">修正填补</text></g>
<g id="n171" class="N"><path d="M471 4088H579"/><text x="481" y="4079">数据归一化</text></g>
<g id="n172" class="N"><path d="M602 4051H983"/><text x="612" y="4042">将数据按比例缩放，使之落入一个小的特定区间</text></g>
<g id="n173" class="N"><path d="M602 4088H1000"/><text x="612" y="4079">去除数据的单位限制，将其转化为无量纲的纯数值</text></g>
<g id="n174" class="N"><path d="M602 4125H949"/><text x="612" y="4116">不同单位或量级的指标能够进行比较和加权</text></g>
<g id="n175" class="N"><path d="M1288 4017H1423"/><text x="1298" y="4008">Z-score标准化</text></g>
<g id="n176" class="N"><path d="M1446 3943H1548"/><text x="1456" y="3934">z=(x-μ)/σ</text></g>
<g id="n177" class="N"><path d="M1571 3943H1800"/><text x="1581" y="3934">其中μ为平均数，σ为标准差</text></g>
<g id="n178" class="N"><path d="M1446 3980H1820"/><text x="1456" y="3971">是一个分数与平均数的差再除以标准差的过程</text></g>
<g id="n179" class="N"><path d="M1446 4017H2050"/><text x="1456" y="4008">Z值的量代表着原始分数和母体平均值之间的距离，是以标准差为单位计算</text></g>
<g id="n180" class="N"><path d="M1446 4054H1855"/><text x="1456" y="4045">数学意义：一个给定分数距离平均数多少个标准差</text></g>
<g id="n181" class="N"><path d="M1446 4091H1910"/><text x="1456" y="4082">经过处理的数据符合标准正态分布，即均值为0，标准差为1</text></g>
<g id="n182" class="N"><path d="M1288 4128H1388"/><text x="1298" y="4119">0-1标准化</text></g>
<g id="n183" class="N"><path d="M1413 4128H1650"/><text x="1423" y="4119">x = (x - Min) / (Max - Min)</text></g>
<g id="n184" class="N"><path d="M471 4319H646"/><text x="481" y="4310">数据连续属性离散化</text></g>
<g id="n185" class="N"><path d="M671 4319H881"/><text x="681" y="4310">连续属性变换成分类属性</text></g>
<g id="n186" class="N"><path d="M905 4250H1323"/><text x="915" y="4241">等宽法→将数据均匀划分成n等份，每份的间距相等</text></g>
<g id="n187" class="N"><path d="M1347 4186H1564"/><text x="1357" y="4177">cats = pd.cut(ages,bins)</text></g>
<g id="n188" class="N"><path d="M1590 4167H1900"/><text x="1600" y="4158">返回的是一个特殊的Categorical对象</text></g>
<g id="n189" class="N"><path d="M1590 4204H1780"/><text x="1600" y="4195">默认区间左开右闭</text></g>
<g id="n190" class="N"><path d="M1347 4241H1454"/><text x="1357" y="4232">cats.codes</text></g>
<g id="n191" class="N"><path d="M1480 4241H1720"/><text x="1490" y="4232">分组后的区间，用代码表示</text></g>
<g id="n192" class="N"><path d="M1347 4278H1490"/><text x="1357" y="4269">cats.categories</text></g>
<g id="n193" class="N"><path d="M1515 4278H1740"/><text x="1525" y="4269">四个区间，结构为index</text></g>
<g id="n194" class="N"><path d="M1347 4315H1546"/><text x="1357" y="4306">pd.value_counts(cats)</text></g>
<g id="n195" class="N"><path d="M1571 4315H1760"/><text x="1581" y="4306">按照区间计数</text></g>
<g id="n196" class="N"><path d="M905 4389H1245"/><text x="915" y="4380">等频法→以相同数量的记录放进每个区间</text></g>
<g id="n197" class="N"><path d="M1268 4351H1442"/><text x="1278" y="4342">cats = pd.qcut(s,4)</text></g>
<g id="n198" class="N"><path d="M1268 4389H1529"/><text x="1278" y="4380">按照四分位数切割，可以修改值</text></g>
<g id="n199" class="N"><path d="M1268 4426H1760"/><text x="1278" y="4417">根据样本分位数对数据进行面元划分，得到大小基本相等的面元</text></g>
<g id="n200" class="N"><path d="M411 4880H503"/><text x="421" y="4871">线性回归</text></g>
<g id="n201" class="N"><path d="M525 4510H584"/><text x="535" y="4501">概念</text></g>
<g id="n202" class="N"><path d="M605 4492H1224"/><text x="615" y="4483">因变量是连续的，自变量可以是连续的也可以是离散的，回归线的性质是线性的</text></g>
<g id="n203" class="N"><path d="M605 4529H1364"/><text x="615" y="4520">使用最佳的拟合直线（也就是回归线）在因变量（Y）和一个或多个自变量（X）之间建立一种关系</text></g>
<g id="n204" class="N"><path d="M525 4912H584"/><text x="535" y="4903">类型</text></g>
<g id="n205" class="N"><path d="M607 4798H733"/><text x="617" y="4789">简单线性回归</text></g>
<g id="n206" class="N"><path d="M755 4676H847"/><text x="765" y="4667">数据示例</text></g>
<g id="n207" class="N"><path d="M870 4566H1309"/><text x="880" y="4557">from sklearn.linear_model import LinearRegression</text></g>
<g id="n208" class="N"><path d="M870 4603H1207"/><text x="880" y="4594">np.random.RandomState→随机数种子</text></g>
<g id="n209" class="N"><path d="M870 4640H1120"/><text x="880" y="4631">model = LinearRegression()</text></g>
<g id="n210" class="N"><path d="M1145 4640H1508"/><text x="1155" y="4631">线性回归评估器，用于拟合数据得到拟合直线</text></g>
<g id="n211" class="N"><path d="M870 4676H1233"/><text x="880" y="4667">model.fit(x,y)→拟合直线，参数分别为x与y</text></g>
<g id="n212" class="N"><path d="M870 4715H1194"/><text x="880" y="4706">x[:,np.newaxis]→将数组变成(n,1)形状</text></g>
<g id="n213" class="N"><path d="M870 4751H1120"/><text x="880" y="4742">model.predict(xtest)→预测</text></g>
<g id="n214" class="N"><path d="M870 4788H1131"/><text x="880" y="4779">绘制散点图和线性回归拟合直线</text></g>
<g id="n215" class="N"><path d="M755 4843H813"/><text x="765" y="4834">误差</text></g>
<g id="n216" class="N"><path d="M837 4843H1263"/><text x="847" y="4834">plt.plot([xtrain,xtrain],[ytrain,ytest2],color = 'gray')</text></g>
<g id="n217" class="N"><path d="M1288 4825H1497"/><text x="1298" y="4816">分别计算拟合值和实际值</text></g>
<g id="n218" class="N"><path d="M1288 4862H1395"/><text x="1298" y="4853">绘制误差线</text></g>
<g id="n219" class="N"><path d="M755 4917H852"/><text x="765" y="4908">求解a，b</text></g>
<g id="n220" class="N"><path d="M874 4899H1097"/><text x="884" y="4890">斜率a为：model.coef_[0]</text></g>
<g id="n221" class="N"><path d="M874 4936H1114"/><text x="884" y="4927">截距b为：model.intercept_</text></g>
<g id="n222" class="N"><path d="M607 5028H742"/><text x="617" y="5019">多元线性回归</text></g>
<g id="n223" class="N"><path d="M763 4973H886"/><text x="773" y="4964">绘制散点矩阵</text></g>
<g id="n224" class="N"><path d="M763 5010H1012"/><text x="773" y="5001">model = LinearRegression()</text></g>
<g id="n225" class="N"><path d="M763 5047H1090"/><text x="773" y="5038">model.fit(df[['b1','b2','b3','b4']],df['y'])</text></g>
<g id="n226" class="N"><path d="M763 5084H1005"/><text x="773" y="5075">其它参数设置同一元线性回归</text></g>
<g id="n227" class="N"><path d="M525 5251H619"/><text x="535" y="5242">模型评估</text></g>
<g id="n228" class="N"><path d="M641 5195H1136"/><text x="651" y="5186">SSE(和方差、误差平方和)：The sum of squares due to error</text></g>
<g id="n229" class="N"><path d="M641 5232H992"/><text x="651" y="5223">MSE(均方差、方差)：Mean squared error</text></g>
<g id="n230" class="N"><path d="M641 5269H1063"/><text x="651" y="5260">RMSE(均方根、标准差)：Root mean squared error</text></g>
<g id="n231" class="N"><path d="M641 5306H1053"/><text x="651" y="5297">R-square(确定系数) Coefficient of determination</text></g>
<g id="n232" class="N"><path d="M1284 5121H1534"/><text x="1294" y="5112">from sklearn import metrics</text></g>
<g id="n233" class="N"><path d="M1284 5158H1680"/><text x="1294" y="5149">ytest = model.predict(xtrain[:,np.newaxis])</text></g>
<g id="n234" class="N"><path d="M1284 5195H1700"/><text x="1294" y="5186">mse = metrics.mean_squared_error(ytrain,ytest)</text></g>
<g id="n235" class="N"><path d="M1284 5232H1640"/><text x="1294" y="5223">rmse = np.sqrt(mse)</text></g>
<g id="n236" class="N"><path d="M1284 5269H1660"/><text x="1294" y="5260">ssr = ((ytest - ytrain.mean())**2).sum()</text></g>
<g id="n237" class="N"><path d="M1284 5306H1660"/><text x="1294" y="5297">sst = ((ytrain - ytrain.mean())**2).sum()</text></g>
<g id="n238" class="N red"><path d="M1284 5346H1760"/><text x="1294" y="5335" style="font-size:21px">r = model.score(xtrain[:,np.newaxis],ytrain)</text></g>
<g id="n239" class="N"><path d="M411 5546H508"/><text x="421" y="5537">KNN分类</text></g>
<g id="n240" class="N"><path d="M531 5390H1327"/><text x="541" y="5381">在距离空间里，如果一个样本的最接近的k个邻居里，绝大多数属于某个类别，则该样本也属于这个类别</text></g>
<g id="n241" class="N"><path d="M531 5500H622"/><text x="541" y="5491">电影分类</text></g>
<g id="n242" class="N"><path d="M646 5426H916"/><text x="656" y="5417">from sklearn import neighbors</text></g>
<g id="n243" class="N"><path d="M646 5463H988"/><text x="656" y="5454">knn = neighbors.KNeighborsClassifier()</text></g>
<g id="n244" class="N"><path d="M1013 5463H1069"/><text x="1023" y="5454">建模</text></g>
<g id="n245" class="N"><path d="M646 5500H972"/><text x="656" y="5491">knn.fit(data[['fight','kiss']],data['type'])</text></g>
<g id="n246" class="N"><path d="M997 5500H1087"/><text x="1007" y="5491">拟合数据</text></g>
<g id="n247" class="N"><path d="M646 5538H840"/><text x="656" y="5529">knn.predict([[18,90]])</text></g>
<g id="n248" class="N"><path d="M864 5538H988"/><text x="874" y="5529">预测未知数据</text></g>
<g id="n249" class="N"><path d="M646 5574H788"/><text x="656" y="5565">绘制图表可视化</text></g>
<g id="n250" class="N"><path d="M531 5703H622"/><text x="541" y="5694">植物分类</text></g>
<g id="n251" class="N"><path d="M646 5611H901"/><text x="656" y="5602">from sklearn import datasets</text></g>
<g id="n252" class="N"><path d="M646 5648H867"/><text x="656" y="5639">iris = datasets.load_iris()</text></g>
<g id="n253" class="N"><path d="M891 5648H982"/><text x="901" y="5639">加载数据</text></g>
<g id="n254" class="N"><path d="M646 5685H874"/><text x="656" y="5676">转换为DataFrame数据结构</text></g>
<g id="n255" class="N"><path d="M646 5722H988"/><text x="656" y="5713">knn = neighbors.KNeighborsClassifier()</text></g>
<g id="n256" class="N"><path d="M1013 5722H1069"/><text x="1023" y="5713">建模</text></g>
<g id="n257" class="N"><path d="M646 5759H944"/><text x="656" y="5750">knn.fit(iris.data,df['target_names'])</text></g>
<g id="n258" class="N"><path d="M968 5759H1092"/><text x="978" y="5750">拟合训练数据</text></g>
<g id="n259" class="N"><path d="M646 5796H842"/><text x="656" y="5787">knn.predict(pre_data)</text></g>
<g id="n260" class="N"><path d="M866 5796H957"/><text x="876" y="5787">预测数据</text></g>
<g id="n261" class="N"><path d="M411 6401H622"/><text x="421" y="6392">聚类（PCA主成分分析）</text></g>
<g id="n262" class="N"><path d="M645 5833H944"/><text x="655" y="5824">最广泛无监督算法 + 基础的降维算法</text></g>
<g id="n263" class="N"><path d="M645 5870H1493"/><text x="655" y="5861">通过线性变换将原始数据变换为一组各维度线性无关的表示，用于提取数据的主要特征分量→高维数据的降维</text></g>
<g id="n264" class="N"><path d="M645 6112H770"/><text x="655" y="6103">二维数据降维</text></g>
<g id="n265" class="N"><path d="M793 5907H901"/><text x="803" y="5898">创建数据df</text></g>
<g id="n266" class="N"><path d="M793 5944H1136"/><text x="803" y="5935">rom sklearn.decomposition import PCA</text></g>
<g id="n267" class="N"><path d="M1161 5944H1370"/><text x="1171" y="5935">加载主成分分析模块PCA</text></g>
<g id="n268" class="N"><path d="M793 5982H1347"/><text x="803" y="5973">pca = PCA(n_components=1)<tspan x="1080"># n_components = 1→降为1维</tspan></text></g>
<g id="n269" class="N"><path d="M793 6018H1023"/><text x="803" y="6009">pca.fit(df)<tspan x="927"># 构建模型</tspan></text></g>
<g id="n270" class="N"><path d="M793 6074H1013"/><text x="803" y="6065">pca.explained_variance_</text></g>
<g id="n271" class="N"><path d="M1036 6055H1160"/><text x="1046" y="6046"># 输出特征值</text></g>
<g id="n272" class="N"><path d="M1036 6092H1587"/><text x="1046" y="6083">explained_variance_ratio_：返回 所保留的n个成分各自的方差百分比</text></g>
<g id="n273" class="N"><path d="M793 6147H978"/><text x="803" y="6138">pca.components_</text></g>
<g id="n274" class="N"><path d="M1002 6130H1146"/><text x="1012" y="6121"># 输出特征向量</text></g>
<g id="n275" class="N"><path d="M1002 6166H1211"/><text x="1012" y="6157">返回具有最大方差的成分</text></g>
<g id="n276" class="N"><path d="M793 6203H969"/><text x="803" y="6194">pca.n_components_</text></g>
<g id="n277" class="N"><path d="M993 6203H1151"/><text x="1003" y="6194"># 输出成分的个数</text></g>
<g id="n278" class="N"><path d="M793 6245H1574"/><text x="803" y="6236">x_pca = pca.transform(df)<tspan x="1087"># 数据转换主成分分析，生成新的向量x_pca，为降维后的数据</tspan></text></g>
<g id="n279" class="N red"><path d="M1600 6245H1745"/><text x="1610" y="6236">fit_transform(X)</text></g>
<g id="n280" class="N"><path d="M793 6281H1398"/><text x="803" y="6272">x_new = pca.inverse_transform(x_pca)<tspan x="1133"># 将降维后的数据转换成原始数据</tspan></text></g>
<g id="n281" class="N"><path d="M793 6318H884"/><text x="803" y="6309">绘制图表</text></g>
<g id="n282" class="N"><path d="M645 6498H770"/><text x="655" y="6489">多维数据降维</text></g>
<g id="n283" class="N"><path d="M793 6378H1143"/><text x="803" y="6346">from sklearn.datasets import load_digits<tspan x="803" dy="23">digits = load_digits()</tspan></text></g>
<g id="n284" class="N"><path d="M1168 6378H1258"/><text x="1178" y="6369">加载数据</text></g>
<g id="n285" class="N"><path d="M793 6415H1153"/><text x="803" y="6406">pca = PCA(n_components=2)<tspan x="1064"># 降为2维</tspan></text></g>
<g id="n286" class="N"><path d="M793 6452H1151"/><text x="803" y="6443">projected = pca.fit_transform(digits.data)</text></g>
<g id="n287" class="N"><path d="M793 6489H1133"/><text x="803" y="6480">pca.explained_variance_<tspan x="1020"># 输出特征值</tspan></text></g>
<g id="n288" class="N"><path d="M793 6526H1184"/><text x="803" y="6517">pca.components_.shape<tspan x="1020"># 输出特征向量形状</tspan></text></g>
<g id="n289" class="N"><path d="M1207 6526H1610"/><text x="1217" y="6517">降维后，得到2个成分，每个成分有64个特征向量</text></g>
<g id="n290" class="N"><path d="M793 6618H903"/><text x="803" y="6609">主成分筛选</text></g>
<g id="n291" class="N"><path d="M923 6562H1197"/><text x="933" y="6553">pca = PCA(n_components=10)</text></g>
<g id="n292" class="N"><path d="M923 6601H1283"/><text x="933" y="6592">projected = pca.fit_transform(digits.data)</text></g>
<g id="n293" class="N"><path d="M1308 6601H1740"/><text x="1318" y="6592">降维后，得到10个成分，每个成分有64个特征向量</text></g>
<g id="n294" class="N"><path d="M923 6637H1221"/><text x="933" y="6628">做贡献率累计求和，构建DataFrame</text></g>
<g id="n295" class="N"><path d="M923 6674H1272"/><text x="933" y="6665">寻找贡献率超过85%时的成分，即主要成分</text></g>
<g id="n296" class="N"><path d="M645 6969H772"/><text x="655" y="6960">K-means聚类</text></g>
<g id="n297" class="N"><path d="M796 6748H852"/><text x="806" y="6739">概念</text></g>
<g id="n298" class="N"><path d="M878 6711H1104"/><text x="888" y="6702">典型的基于距离的聚类算法</text></g>
<g id="n299" class="N"><path d="M878 6748H1449"/><text x="888" y="6739">K均值：基于原型的、划分的距离技术，它试图发现用户指定个数(K)的簇</text></g>
<g id="n300" class="N"><path d="M878 6785H1104"/><text x="888" y="6776">以欧式距离作为相似度测度</text></g>
<g id="n301" class="N"><path d="M796 6951H886"/><text x="806" y="6942">步骤方法</text></g>
<g id="n302" class="N"><path d="M911 6822H1427"/><text x="921" y="6813">from sklearn.datasets.samples_generator import make_blobs</text></g>
<g id="n303" class="N"><path d="M1452 6822H1700"/><text x="1462" y="6813">make_blobs聚类数据生成器</text></g>
<g id="n304" class="N"><path d="M911 6951H1131"/><text x="921" y="6942">x,y_true = make_blobs()</text></g>
<g id="n305" class="N"><path d="M1153 6859H1441"/><text x="1163" y="6850">n_samples→待生成的样本的总数</text></g>
<g id="n306" class="N"><path d="M1153 6896H1421"/><text x="1163" y="6887">n_features→每个样本的特征数</text></g>
<g id="n307" class="N"><path d="M1153 6933H1313"/><text x="1163" y="6924">centers→类别数</text></g>
<g id="n308" class="N"><path d="M1153 6970H1760"/><text x="1163" y="6961">cluster_std→每个类别的方差，如多类数据不同方差，可设置为[1.0,3.0]</text></g>
<g id="n309" class="N"><path d="M1153 7007H1398"/><text x="1163" y="6998">random_state→随机数种子</text></g>
<g id="n310" class="N"><path d="M1153 7044H1541"/><text x="1163" y="7035">x→生成数据值，y→生成数据对应的类别标签</text></g>
<g id="n311" class="N"><path d="M911 7081H1036"/><text x="921" y="7072">绘制图表显示</text></g>
<g id="n312" class="N"><path d="M796 7192H932"/><text x="806" y="7183">构建K均值模型</text></g>
<g id="n313" class="N"><path d="M956 7118H1268"/><text x="966" y="7109">from sklearn.cluster import KMeans</text></g>
<g id="n314" class="N"><path d="M1293 7118H1383"/><text x="1303" y="7109">导入模块</text></g>
<g id="n315" class="N"><path d="M956 7155H1253"/><text x="966" y="7146">kmeans = KMeans(n_clusters = 4)</text></g>
<g id="n316" class="N"><path d="M956 7192H1082"/><text x="966" y="7183">kmeans.fit(x)</text></g>
<g id="n317" class="N"><path d="M956 7229H1211"/><text x="966" y="7220">y_means = kmeans.predict(x</text></g>
<g id="n318" class="N"><path d="M956 7266H1272"/><text x="966" y="7257">centriods = kmeans.cluster_centers_</text></g>
<g id="n319" class="N"><path d="M1298 7266H1472"/><text x="1308" y="7257">得到不同簇的中心点</text></g>
<g id="n320" class="N"><path d="M411 7489H538"/><text x="421" y="7480">蒙特卡罗模拟</text></g>
<g id="n321" class="N"><path d="M559 7341H651"/><text x="569" y="7332">概念理解</text></g>
<g id="n322" class="N"><path d="M673 7304H1156"/><text x="683" y="7295">又称随机抽样或统计试验方法，以概率和统计理论方法为基础</text></g>
<g id="n323" class="N"><path d="M673 7341H969"/><text x="683" y="7332">使用随机数（或更常见的伪随机数）</text></g>
<g id="n324" class="N"><path d="M673 7378H1140"/><text x="683" y="7369">用电子计算机实现统计模拟或抽样，以获得问题的近似解。</text></g>
<g id="n325" class="N"><path d="M559 7637H617"/><text x="569" y="7628">案例</text></g>
<g id="n326" class="N"><path d="M641 7525H727"/><text x="651" y="7516">π的计算</text></g>
<g id="n327" class="N"><path d="M750 7415H1080"/><text x="760" y="7406">from matplotlib.patches import Circle</text></g>
<g id="n328" class="N"><path d="M750 7452H1478"/><text x="760" y="7443">numpy.random.uniform(low,high,size)→从一个均匀分布[low,high)中随机采样，均匀分布</text></g>
<g id="n329" class="N"><path d="M750 7489H961"/><text x="760" y="7480">在正方形区域内随机投点</text></g>
<g id="n330" class="N"><path d="M750 7525H927"/><text x="760" y="7516">计算点到圆心的距离</text></g>
<g id="n331" class="N"><path d="M750 7563H961"/><text x="760" y="7554">统计落在圆内的点的数目</text></g>
<g id="n332" class="N"><path d="M750 7637H808"/><text x="760" y="7628">绘图</text></g>
<g id="n333" class="N"><path d="M832 7600H1104"/><text x="842" y="7591">plt.plot(x,y,'ko',markersize = 1)</text></g>
<g id="n334" class="N"><path d="M832 7637H1318"/><text x="842" y="7628">circle = Circle(xy=(a,b),radius=r,alpha = 0.5,color = 'red')</text></g>
<g id="n335" class="N"><path d="M832 7674H1034"/><text x="842" y="7665">axes.add_patch(circle)</text></g>
<g id="n336" class="N"><path d="M641 7711H803"/><text x="651" y="7702">计算积分 y = x**2</text></g>
<g id="n337" class="N"><path d="M641 7748H783"/><text x="651" y="7739">排队上厕所问题</text></g>
</g>
</svg>
